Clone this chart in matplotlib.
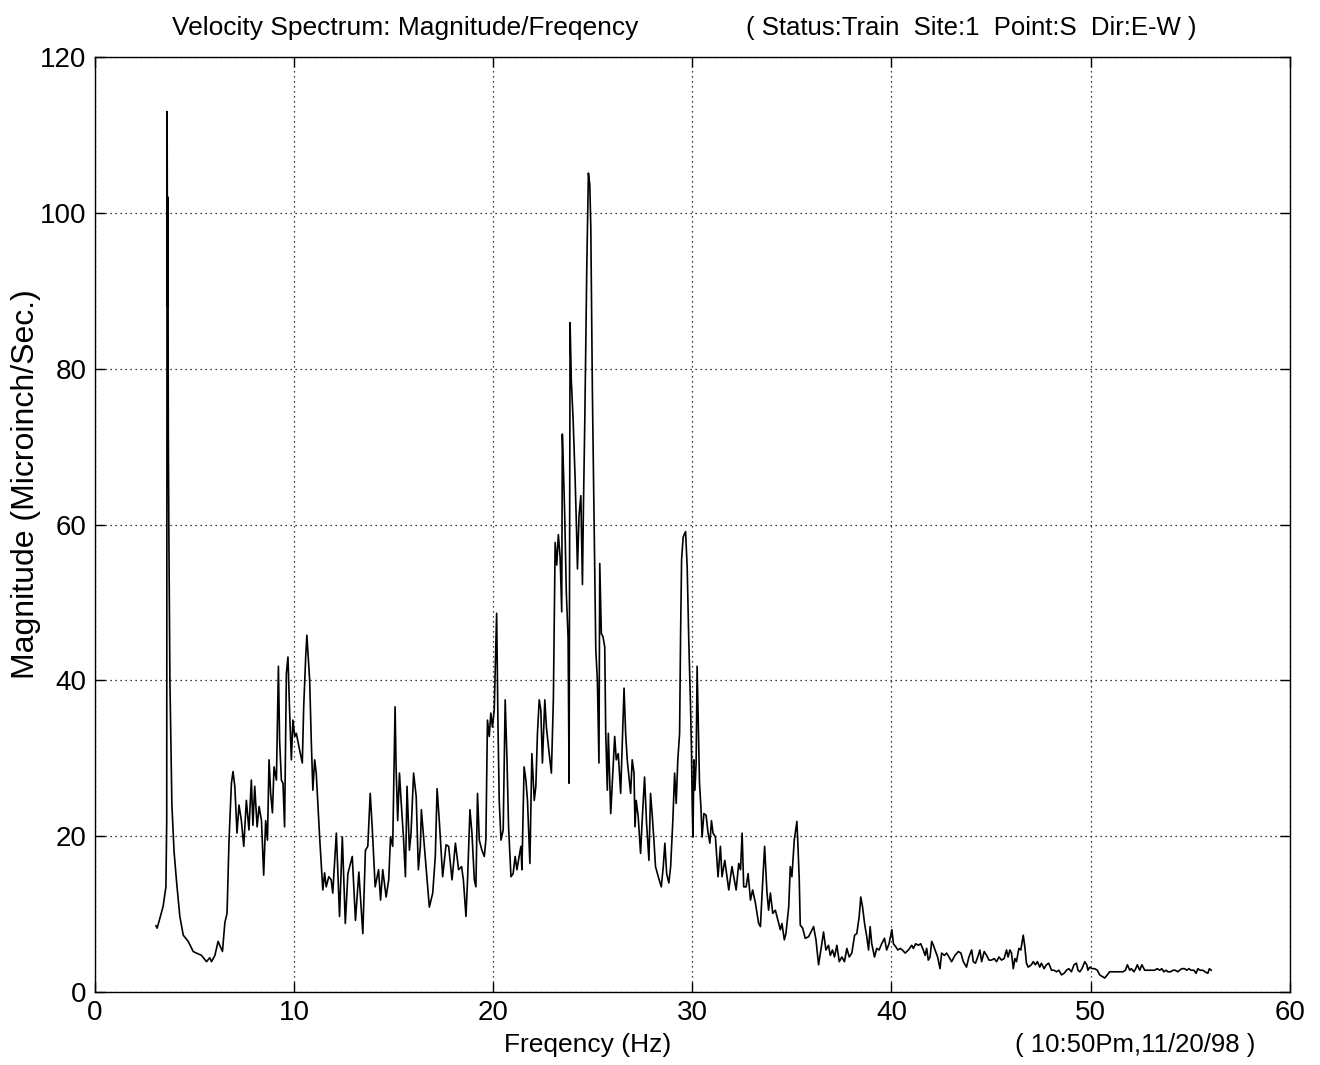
import numpy as np
import matplotlib
matplotlib.use('Agg')
import matplotlib.pyplot as plt

plt.rcParams['font.family'] = ['Liberation Sans', 'DejaVu Sans']

# spectrum samples, split by band (Hz, microinch/sec)
freq_low = [3.06, 3.12, 3.42, 3.56, 3.60, 3.62, 3.64, 3.66, 3.68, 3.71, 3.76, 3.86, 3.97,
            4.10, 4.26, 4.43, 4.68, 4.93, 5.10, 5.35, 5.60, 5.76, 5.85, 6.02, 6.18, 6.40,
            6.52, 6.63, 6.73, 6.85, 6.93, 7.02, 7.13, 7.23, 7.35, 7.47, 7.60, 7.73, 7.85,
            7.93, 8.02, 8.14, 8.24, 8.36, 8.47, 8.57, 8.66, 8.74, 8.82, 8.91, 8.99, 9.11,
            9.21, 9.27, 9.36, 9.44, 9.52, 9.61, 9.69, 9.77, 9.86, 9.94, 10.03, 10.11, 10.24,
            10.41, 10.48, 10.58, 10.64, 10.78, 10.86, 10.94, 11.03, 11.11]
mag_low = [8.5, 8.2, 11.0, 13.5, 22.0, 113.0, 88.0, 102.0, 72.0, 58.0, 40.0, 24.0, 18.0,
           14.0, 9.7, 7.3, 6.5, 5.2, 5.0, 4.7, 3.9, 4.4, 3.9, 4.7, 6.5, 5.2,
           8.9, 10.1, 19.5, 26.8, 28.3, 26.4, 20.4, 24.0, 22.0, 18.7, 24.6, 20.8, 27.2,
           21.4, 26.4, 21.2, 23.8, 22.0, 15.0, 22.0, 19.5, 29.8, 25.5, 23.0, 28.9, 27.2,
           41.8, 32.3, 27.2, 26.8, 21.2, 40.9, 43.0, 36.2, 29.8, 34.9, 32.8, 33.2, 31.5,
           29.4, 36.6, 43.0, 45.8, 40.0, 32.3, 25.9, 29.8, 28.1]

freq_mid = [11.28, 11.44, 11.53, 11.61, 11.74, 11.86, 11.94, 12.12, 12.28, 12.42, 12.57,
            12.70, 12.92, 13.08, 13.25, 13.45, 13.58, 13.70, 13.82, 13.92, 14.07, 14.24,
            14.34, 14.45, 14.62, 14.75, 14.84, 14.95, 15.07, 15.12, 15.20, 15.29, 15.37,
            15.49, 15.59, 15.67, 15.79, 15.87, 16.00, 16.13, 16.24, 16.34, 16.39, 16.54,
            16.79, 16.96, 17.09, 17.18, 17.29, 17.46, 17.63, 17.76, 17.93, 18.10, 18.26,
            18.41, 18.50, 18.63, 18.71, 18.83, 18.93, 19.05, 19.13, 19.21, 19.30, 19.43,
            19.55, 19.63, 19.71, 19.80, 19.88, 19.96, 20.05, 20.17, 20.24, 20.30, 20.39]
mag_mid = [19.9, 13.1, 15.3, 13.5, 14.8, 14.4, 12.7, 20.4, 9.7, 19.9, 8.8,
           15.2, 17.4, 9.2, 15.4, 7.5, 18.2, 18.7, 25.5, 21.2, 13.5, 15.7,
           11.8, 15.7, 12.2, 14.4, 19.9, 18.7, 36.6, 28.9, 22.0, 28.1, 24.6,
           19.9, 14.8, 26.4, 18.2, 20.4, 28.1, 25.1, 15.7, 18.7, 23.4, 18.7,
           10.9, 12.7, 17.4, 26.1, 22.0, 14.8, 18.9, 18.7, 14.4, 19.1, 15.7,
           16.1, 14.4, 9.7, 14.4, 23.4, 20.4, 14.4, 13.5, 25.5, 19.5, 18.2,
           17.4, 19.5, 34.9, 32.8, 35.8, 34.0, 36.2, 48.6, 34.0, 24.6, 19.5]

freq_peak = [20.50, 20.60, 20.69, 20.77, 20.89, 21.00, 21.10, 21.19, 21.30, 21.39, 21.44,
             21.55, 21.64, 21.72, 21.84, 21.94, 22.06, 22.14, 22.22, 22.31, 22.39, 22.47,
             22.59, 22.67, 22.81, 22.92, 23.02, 23.11, 23.19, 23.27, 23.36, 23.44, 23.47,
             23.52, 23.59, 23.67, 23.76, 23.81, 23.86, 23.92, 24.01, 24.11, 24.18, 24.23,
             24.31, 24.40, 24.48, 24.53, 24.60, 24.70, 24.78, 24.85, 24.90, 24.98, 25.06,
             25.15, 25.23, 25.31, 25.35, 25.43, 25.51, 25.60, 25.65, 25.73, 25.78, 25.90,
             25.98, 26.10, 26.18, 26.28, 26.40, 26.57, 26.65, 26.73, 26.90, 26.98, 27.07,
             27.12, 27.18, 27.28, 27.40, 27.48, 27.60, 27.70, 27.82, 27.90, 27.98, 28.07,
             28.15, 28.29, 28.44, 28.54, 28.62, 28.71, 28.82, 28.91, 29.02, 29.11, 29.19,
             29.27, 29.36, 29.41, 29.46, 29.54, 29.66, 29.74, 29.82, 29.91, 29.96, 29.99,
             30.03]
mag_peak = [20.8, 37.5, 29.8, 21.2, 14.8, 15.2, 17.4, 15.7, 17.4, 18.7, 15.7,
            28.9, 27.2, 24.6, 16.5, 30.6, 24.6, 26.4, 33.2, 37.5, 36.2, 29.4,
            37.5, 34.0, 30.6, 28.1, 37.5, 57.7, 54.8, 58.7, 55.8, 48.8, 71.6,
            67.6, 61.2, 51.3, 45.4, 26.8, 85.9, 78.5, 73.6, 66.1, 59.7, 54.3,
            61.2, 63.7, 52.3, 62.2, 73.6, 93.3, 105.1, 103.6, 98.2, 77.0, 61.2,
            44.0, 40.0, 29.4, 55.0, 46.0, 45.6, 44.3, 33.2, 25.9, 33.2, 22.9,
            26.8, 32.8, 29.8, 30.6, 25.5, 39.0, 33.2, 29.8, 25.5, 29.8, 28.1,
            21.2, 24.6, 22.5, 17.8, 22.0, 27.6, 21.7, 16.9, 25.5, 22.9, 19.5,
            16.1, 14.8, 13.5, 16.1, 19.1, 15.2, 14.0, 16.1, 22.0, 28.1, 24.2,
            29.8, 33.2, 46.0, 55.5, 58.4, 59.1, 54.6, 45.2, 36.6, 30.6, 24.6,
            19.9]

freq_high = [30.08, 30.13, 30.19, 30.24, 30.29, 30.36, 30.43, 30.49, 30.58, 30.69, 30.79,
             30.88, 30.96, 31.04, 31.16, 31.29, 31.41, 31.49, 31.63, 31.74, 31.83, 31.99,
             32.20, 32.33, 32.42, 32.50, 32.58, 32.70, 32.80, 32.92, 33.03, 33.17, 33.33,
             33.42, 33.53, 33.63, 33.75, 33.83, 33.92, 34.04, 34.17, 34.30, 34.42, 34.50,
             34.62, 34.70, 34.84, 34.92, 35.00, 35.12, 35.20, 35.25, 35.30, 35.37, 35.42,
             35.54, 35.67, 35.84, 36.01, 36.09, 36.21, 36.34, 36.48, 36.59, 36.71, 36.84,
             36.93, 37.04, 37.14, 37.26, 37.38, 37.51, 37.64, 37.76, 37.88, 38.01, 38.15,
             38.26, 38.38, 38.46, 38.55, 38.65, 38.76, 38.85, 38.93, 39.01, 39.15, 39.26,
             39.38, 39.51, 39.65, 39.76, 39.88, 40.02, 40.10, 40.22, 40.32, 40.44, 40.55,
             40.69, 40.85, 41.02, 41.10, 41.22, 41.35, 41.47, 41.60, 41.69, 41.77, 41.85,
             41.94, 42.02, 42.11, 42.19, 42.32, 42.44, 42.52, 42.66, 42.77, 42.89, 43.02,
             43.19, 43.36, 43.49, 43.61, 43.77, 43.89, 44.03, 44.11, 44.22, 44.36, 44.44,
             44.53, 44.66, 44.78, 44.90, 45.03, 45.16, 45.28, 45.40, 45.53, 45.66, 45.78,
             45.86, 45.95, 46.03, 46.12, 46.20, 46.28, 46.40, 46.50, 46.62, 46.70, 46.78,
             46.87, 47.03, 47.12, 47.23, 47.33, 47.45, 47.53, 47.67, 47.78, 47.90, 48.04,
             48.17, 48.29, 48.41, 48.54, 48.67, 48.79, 48.91, 49.04, 49.17, 49.29, 49.37,
             49.46, 49.57, 49.71, 49.81, 49.87, 49.96, 50.08, 50.21, 50.34, 50.46, 50.58,
             50.71, 50.84, 50.96, 51.13, 51.29, 51.46, 51.63, 51.75, 51.85, 51.97, 52.05,
             52.18, 52.27, 52.35, 52.47, 52.58, 52.72, 52.88, 53.05, 53.22, 53.35, 53.47,
             53.58, 53.68, 53.80, 53.88, 54.02, 54.14, 54.25, 54.39, 54.47, 54.59, 54.72,
             54.84, 54.94, 55.05, 55.19, 55.30, 55.39, 55.50, 55.64, 55.75, 55.89, 55.97,
             56.06]
mag_high = [29.8, 25.9, 29.4, 41.8, 35.8, 26.8, 23.8, 19.9, 22.9, 22.7, 20.4,
            19.1, 22.0, 20.4, 19.9, 14.8, 18.7, 14.8, 16.9, 14.8, 13.1, 16.1,
            13.1, 16.5, 15.7, 20.4, 13.5, 13.5, 15.2, 11.8, 13.1, 11.4, 8.8,
            8.4, 14.0, 18.7, 12.7, 10.5, 12.7, 10.1, 10.5, 9.2, 8.0, 8.8,
            6.7, 7.5, 10.9, 16.1, 14.8, 19.5, 21.0, 21.9, 19.1, 14.4, 8.6,
            8.2, 6.9, 7.1, 8.0, 8.4, 6.7, 3.5, 5.8, 7.7, 5.4, 6.0,
            4.7, 5.4, 4.5, 6.0, 3.9, 4.5, 3.9, 5.6, 4.5, 5.0, 7.3,
            7.5, 9.7, 12.2, 10.9, 8.8, 7.1, 5.4, 8.4, 6.2, 4.5, 5.6,
            5.4, 6.2, 6.9, 5.4, 6.2, 8.0, 6.2, 5.8, 5.4, 5.6, 5.4,
            5.0, 5.4, 6.0, 5.6, 6.2, 6.0, 6.2, 5.4, 4.7, 5.6, 4.1,
            4.5, 6.5, 6.0, 5.4, 4.5, 3.0, 5.0, 4.7, 5.0, 4.5, 3.9,
            4.7, 5.2, 5.0, 3.9, 3.2, 4.5, 5.4, 3.9, 3.7, 4.7, 5.4,
            3.9, 5.2, 4.7, 4.1, 4.1, 4.3, 3.9, 4.5, 4.1, 4.3, 5.4,
            4.5, 5.4, 5.0, 3.0, 4.3, 3.9, 5.6, 5.4, 7.3, 5.8, 3.7,
            3.2, 3.5, 3.9, 3.5, 3.9, 3.2, 3.7, 3.0, 3.5, 3.7, 2.8,
            2.8, 2.6, 2.8, 2.2, 2.4, 2.8, 3.0, 2.6, 3.5, 3.7, 2.8,
            2.6, 3.0, 3.9, 3.5, 2.8, 3.2, 3.0, 3.0, 2.8, 2.2, 2.0,
            1.8, 2.2, 2.6, 2.6, 2.6, 2.6, 2.6, 2.8, 3.5, 2.8, 3.0,
            2.6, 3.0, 3.5, 2.8, 3.5, 2.8, 2.8, 2.8, 2.8, 3.0, 2.8,
            3.0, 2.6, 2.8, 2.6, 2.6, 2.8, 2.8, 2.6, 2.8, 3.0, 3.0,
            2.8, 3.0, 2.8, 2.8, 2.4, 3.0, 2.8, 2.8, 2.6, 2.4, 3.0,
            2.8]

freq = np.concatenate([freq_low, freq_mid, freq_peak, freq_high])
mag = np.concatenate([mag_low, mag_mid, mag_peak, mag_high])

x_ticks = [0, 10, 20, 30, 40, 50, 60]
y_ticks = [0, 20, 40, 60, 80, 100, 120]

fig = plt.figure(figsize=(13.2, 10.65), dpi=100)
ax = fig.add_axes([0.072, 0.0685, 0.905, 0.878])

ax.plot(freq, mag, color='black', linewidth=1.2)

ax.set_xlim(0, 60)
ax.set_ylim(0, 120)
ax.set_xticks(x_ticks)
ax.set_yticks(y_ticks)
ax.tick_params(direction='in', length=7, width=1, labelsize=20,
               top=True, right=True, pad=6)
ax.grid(True, linestyle=(0, (1, 3)), color='black', linewidth=0.9)
for s in ax.spines.values():
    s.set_linewidth(1.0)

# axis labels placed as figure text so they sit where the layout wants them
fig.text(0.4455, 0.019, 'Freqency (Hz)', fontsize=19, ha='center', va='center')
fig.text(0.02, 0.5455, 'Magnitude (Microinch/Sec.)', fontsize=23, rotation=90,
         ha='center', va='center')

fig.text(0.307, 0.974, 'Velocity Spectrum: Magnitude/Freqency', fontsize=19,
         ha='center', va='center')
fig.text(0.736, 0.974, '( Status:Train  Site:1  Point:S  Dir:E-W )', fontsize=18.5,
         ha='center', va='center')
fig.text(0.86, 0.019, '( 10:50Pm,11/20/98 )', fontsize=18.5, ha='center', va='center')

fig.savefig('out.png', dpi=100)
